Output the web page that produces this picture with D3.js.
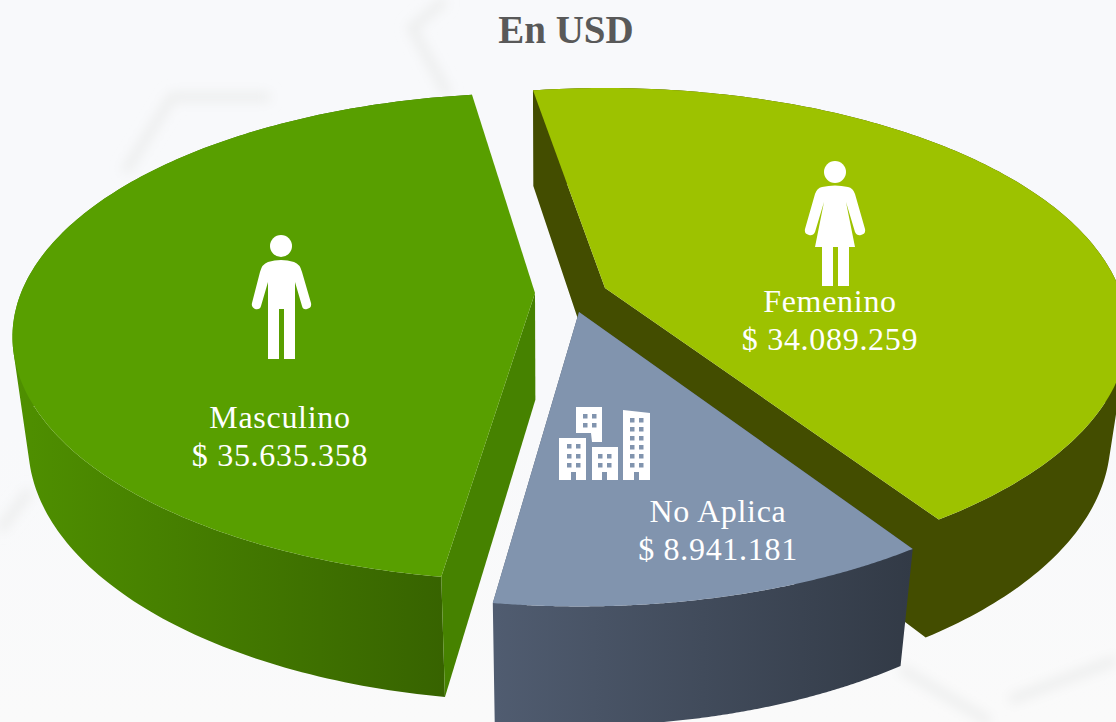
<!DOCTYPE html>
<html><head><meta charset="utf-8">
<script src="https://cdn.jsdelivr.net/npm/d3@7"></script>
<style>html,body{margin:0;padding:0;background:#f8f9fb;overflow:hidden}svg{display:block}</style>
</head><body><svg id="c" width="1116" height="722"></svg>
<script>
const categories = ["Femenino", "No Aplica", "Masculino"];
const values = [34089259, 8941181, 35635358];
const title = "En USD";

const topColors = ["#9dc200", "#8194ae", "#589f00"];
const cutColor = "#468200";
const wallStops = [["#434d00", "#434d00"], ["#505c70", "#323a46"], ["#4f9000", "#376300"]];
const wallExtent = [[900, 1116], [495, 912], [12, 445]];
const apexes = [[605, 288], [579, 312], [535, 293]];
const sliceTurn = [[0, 0], [0, 0.5], [1.2, 1.2]];
const sliceStretch = [1, 1.023, 1];
const labelAnchors = [[830, 312], [718, 522], [280, 428]];

const svg = d3.select("#c");
const W = 1116, H = 722;
const defs = svg.append("defs");
defs.append("filter").attr("id", "blur").attr("x", "-30%").attr("y", "-30%").attr("width", "160%").attr("height", "160%")
  .append("feGaussianBlur").attr("stdDeviation", 6);

// faint background texture
const bg = defs.append("linearGradient").attr("id", "bg").attr("x1", 0).attr("x2", 0).attr("y1", 0).attr("y2", 1);
bg.append("stop").attr("offset", 0).attr("stop-color", "#f8f9fb");
bg.append("stop").attr("offset", 0.6).attr("stop-color", "#f8f9fb");
bg.append("stop").attr("offset", 1).attr("stop-color", "#fafafa");
svg.append("rect").attr("width", W).attr("height", H).attr("fill", "url(#bg)");
const texture = [
  "M270,97 L172,97 L125,172",
  "M445,0 L412,28 L448,95",
  "M0,530 L30,490",
  "M900,668 L990,722",
  "M1116,660 L1010,700"
];
svg.append("g").attr("filter", "url(#blur)").selectAll("path").data(texture).join("path")
  .attr("d", d => d).attr("fill", "none").attr("stroke", "#eceded").attr("stroke-width", 9);

// perspective projection of the pie plane
const B = 514, A = 236, P = 0.18, V = [548, 4040], T = 0.0285;
const toRad = d => d * Math.PI / 180;
function project(apex, a, r, k) {
  const x = r * Math.sin(a), y = r * Math.cos(a), s = 1 / (1 + P * y);
  return { sx: apex[0] + B * x * s, sy: apex[1] - A * k * y * s, t: T * s };
}
const drop = p => [p.sx + (V[0] - p.sx) * p.t, p.sy + (V[1] - p.sy) * p.t];
const lift = p => [p.sx, p.sy];
const line = d3.line();
// a quad with one fixed winding, so that a single path of many quads fills as their union
const quad = (p, q) => {
  const pts = [lift(p), lift(q), drop(q), drop(p)];
  return line(d3.polygonArea(pts) < 0 ? pts.reverse() : pts) + "Z";
};

const pie = d3.pie().sort(null).startAngle(toRad(-9.5)).endAngle(toRad(350.5));
const arcs = pie(values);

arcs.forEach((d, i) => {
  const apex = apexes[i], k = sliceStretch[i];
  const a0 = d.startAngle + toRad(sliceTurn[i][0]), a1 = d.endAngle + toRad(sliceTurn[i][1]);
  const rim = d3.range(0, 181).map(n => project(apex, a0 + (a1 - a0) * n / 180, 1, k));
  const c = project(apex, 0, 0, k);
  const g = svg.append("g");
  const wallId = "wall" + i;

  const grad = defs.append("linearGradient").attr("id", wallId).attr("gradientUnits", "userSpaceOnUse")
    .attr("x1", wallExtent[i][0]).attr("x2", wallExtent[i][1]).attr("y1", 0).attr("y2", 0);
  grad.append("stop").attr("offset", 0).attr("stop-color", wallStops[i][0]);
  grad.append("stop").attr("offset", 1).attr("stop-color", wallStops[i][1]);

  // outer wall, as a ruled surface so that the silhouette is the cylinder's true tangent;
  // Femenino and No Aplica carry their cut faces in the same shape
  const faces = d3.pairs(rim).map(([p, q]) => quad(p, q));
  if (i !== 2) faces.push(quad(c, rim[0]), quad(c, rim[rim.length - 1]));
  g.append("path").attr("d", faces.join("")).attr("fill", "url(#" + wallId + ")");
  // Masculino's front cut is lit and stays in front of its wall
  if (i === 2) g.append("path").attr("d", quad(c, rim[0])).attr("fill", cutColor);
  // top face
  g.append("path").attr("d", line([lift(c), ...rim.map(lift)]) + "Z").attr("fill", topColors[i]);
});

// icons
const icons = svg.append("g").attr("fill", "#fff");
icons.append("circle").attr("cx", 281).attr("cy", 246).attr("r", 11);
icons.append("path").attr("d", "M268,262 Q281,258 294,262 Q300,264 302,272 L311,303 Q312,308 307,309 Q303,310 302,306 L295,282 L295,359 L284,359 L284,309 L279,309 L279,359 L268,359 L268,282 L261,306 Q260,310 255,309 Q251,307 252,303 L260,272 Q262,264 268,262 Z");
icons.append("circle").attr("cx", 835).attr("cy", 172).attr("r", 11);
icons.append("path").attr("d", "M822,187 Q835,184 848,187 Q853,188 855,194 L865,229 Q866,234 861,235 Q857,236 855,232 L846,202 L855,247 L849,247 L849,286 L838,286 L838,247 L833,247 L833,286 L822,286 L822,247 L815,247 L824,202 L815,232 Q813,236 809,235 Q804,234 805,229 L815,194 Q817,188 822,187 Z");

const blocks = [
  { poly: "M576,407 L602,407 L602,442 L592,442 L591,433 L576,433 Z", cols: [583, 592], rows: [414, 423], door: null },
  { poly: "M559,438 L586,438 L586,480 L559,480 Z", cols: [567, 576], rows: [444, 454, 463], door: 571 },
  { poly: "M592,447 L618,447 L618,480 L592,480 Z", cols: [598, 607], rows: [454, 463], door: 602 },
  { poly: "M623,410 L650,413 L650,480 L623,480 Z", cols: [630, 639], rows: [418, 427, 436, 445, 454, 463], door: 634 }
];
blocks.forEach(b => {
  icons.append("path").attr("d", b.poly);
  b.cols.forEach(x => b.rows.forEach(y => {
    icons.append("rect").attr("x", x).attr("y", y).attr("width", 4.5).attr("height", 4.5).attr("fill", "#8194ae");
  }));
  if (b.door) icons.append("rect").attr("x", b.door).attr("y", 472).attr("width", 5).attr("height", 8).attr("fill", "#8194ae");
});

// labels
const fmt = d3.formatLocale({ decimal: ",", thousands: ".", grouping: [3], currency: ["$ ", ""] }).format("$,");
const font = "'Liberation Serif', serif";
arcs.forEach((d, i) => {
  const [x, y] = labelAnchors[i];
  const t = svg.append("text").attr("text-anchor", "middle").attr("fill", "#fff")
    .attr("font-family", font).attr("font-size", 32).attr("letter-spacing", 0.7);
  t.append("tspan").attr("x", x).attr("y", y).text(categories[i]);
  t.append("tspan").attr("x", x).attr("y", y + 38).text(fmt(d.data));
});

svg.append("text").attr("x", 566).attr("y", 43).attr("text-anchor", "middle")
  .attr("font-family", font).attr("font-weight", "bold").attr("font-size", 39)
  .attr("fill", "#595959").text(title);
</script></body></html>
